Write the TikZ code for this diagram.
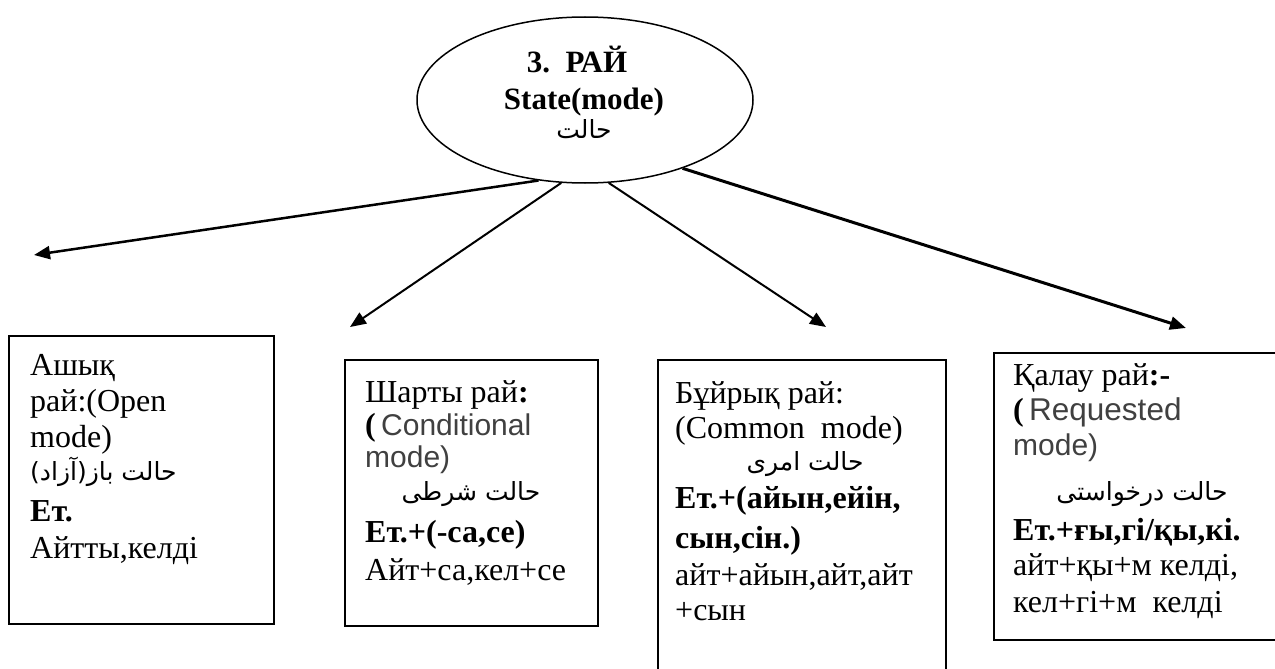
\documentclass[tikz,border=0pt]{standalone}
\usepackage{fontspec}
\setmainfont{Liberation Serif}
\newfontfamily\arialf{Liberation Sans}
\newfontfamily\arabicfont[Script=Arabic]{DejaVu Sans}
\TeXXeTstate=1
\usetikzlibrary{shapes.geometric,arrows.meta}
\definecolor{txtgray}{HTML}{404040}
\begin{document}
\begin{tikzpicture}[x=1pt,y=-1pt,
  boxline/.style={draw, line width=2pt, inner sep=0pt, anchor=north west},
  ln/.style={anchor=base west, inner sep=0pt, font=\fontsize{32}{36}\selectfont},
  gr/.style={anchor=base west, inner sep=0pt, text=txtgray, font=\arialf\fontsize{30}{34}\selectfont},
  ar/.style={anchor=base, inner sep=0pt, font=\arabicfont\fontsize{25}{30}\selectfont},
  ttl/.style={anchor=base, inner sep=0pt, font=\bfseries\fontsize{31}{35}\selectfont},
  conn/.style={-{Triangle[length=16pt,width=13pt]}}]
\useasboundingbox (0,0) rectangle (1275,669);
\clip (0,0) rectangle (1275,669);

% central ellipse
\node[draw, ellipse, line width=1.5pt, minimum width=336, minimum height=166, inner sep=0pt] (st) at (585,100) {};
\node[ttl] (st1) at (577,73) {3.\ \ РАЙ};
\node[ttl] (st2) at (584,110) {State(mode)};
\node[ar] (st3) at (584,138) {\beginR حالت\endR};

% boxes
\node[boxline, minimum width=265, minimum height=288] (b1) at (8,335) {};
\node[boxline, minimum width=253, minimum height=266] (b2) at (344,359) {};
\node[boxline, minimum width=288, minimum height=340] (b3) at (657,359) {};
\node[boxline, minimum width=292, minimum height=287] (b4) at (993,352) {};

% arrow end points
\coordinate (t1) at (34,255);
\coordinate (t2) at (350,327);
\coordinate (t3) at (826,327);
\coordinate (t4) at (1186,328);

\draw[conn, line width=2.5pt] (st.240.5) -- (t1);
\draw[conn, line width=2pt] (st.254.5) -- (t2);
\draw[conn, line width=2pt] (st.286.8) -- (t3);
\draw[conn, line width=3pt] (st.325.8) -- (t4);

% box 1 text
\node[ln] (a1) at (30,375) {Ашық};
\node[ln] (a2) at (30,411) {рай:(Open};
\node[ln] (a3) at (30,447) {mode)};
\node[ar, anchor=base west] (a4) at (30,480) {\beginR حالت باز(آزاد)\endR};
\node[ln] (a5) at (30,521) {\textbf{Ет.}};
\node[ln] (a6) at (30,558) {Айтты,келді};

% box 2 text
\node[ln] (c1) at (365,402) {Шарты рай\textbf{:}};
\node[ln] (c2) at (365,435) {\textbf{(}\,{\arialf\fontsize{30}{34}\selectfont\color{txtgray} Conditional}};
\node[gr] (c3) at (365,467) {mode)};
\node[ar] (c4) at (471,500) {\beginR حالت شرطی\endR};
\node[ln] (c5) at (365,542) {\textbf{Ет.+(-са,се)}};
\node[ln] (c6) at (365,580) {Айт+са,кел+се};

% box 3 text
\node[ln] (d1) at (675,403) {Бұйрық рай:};
\node[ln] (d2) at (675,438) {(Common\ \ mode)};
\node[ar] (d3) at (805,470) {\beginR حالت امری\endR};
\node[ln] (d4) at (675,508) {\textbf{Ет.+(айын,ейін,}};
\node[ln] (d5) at (675,548) {\textbf{сын,сін.)}};
\node[ln] (d6) at (675,585) {айт+айын,айт,айт};
\node[ln] (d7) at (675,620) {+сын};

% box 4 text
\node[ln] (e1) at (1013,385) {Қалау рай\textbf{:-}};
\node[ln] (e2) at (1013,420) {\textbf{(}\,{\arialf\fontsize{31.5}{34}\selectfont\color{txtgray} Requested}};
\node[gr] (e3) at (1013,455) {mode)};
\node[ar] (e4) at (1142,500) {\beginR حالت درخواستی\endR};
\node[ln] (e5) at (1013,540) {\textbf{Ет.+ғы,гі/қы,кі.}};
\node[ln] (e6) at (1013,575) {айт+қы+м келді,};
\node[ln] (e7) at (1013,612) {кел+гі+м\ \ келді};
\end{tikzpicture}
\end{document}
